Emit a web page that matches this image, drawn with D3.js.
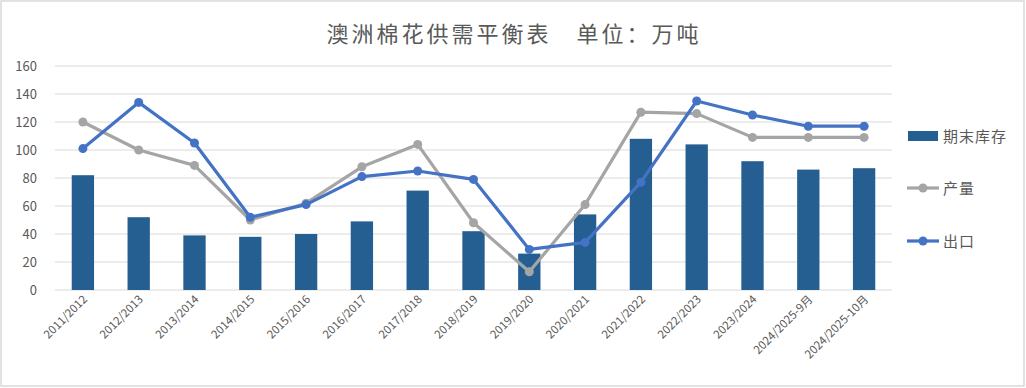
<!DOCTYPE html>
<html>
<head>
<meta charset="utf-8">
<script src="https://cdn.jsdelivr.net/npm/d3@7"></script>
<style>
  body { margin: 0; background: #fff; }
  text { font-family: "Noto Sans CJK SC", "Noto Sans", sans-serif; }
</style>
</head>
<body>
<svg width="1026" height="388"></svg>
<script>
// categories and series
const seasons = ["2011/2012", "2012/2013", "2013/2014", "2014/2015", "2015/2016",
    "2016/2017", "2017/2018", "2018/2019", "2019/2020", "2020/2021",
    "2021/2022", "2022/2023", "2023/2024", "2024/2025-9月", "2024/2025-10月"];
const stocks = [82, 52, 39, 38, 40, 49, 71, 42, 26, 54, 108, 104, 92, 86, 87];
const production = [120, 100, 89, 50, 62, 88, 104, 48, 13, 61, 127, 126, 109, 109, 109];
const exports = [101, 134, 105, 52, 61, 81, 85, 79, 29, 34, 77, 135, 125, 117, 117];
const yTicks = [0, 20, 40, 60, 80, 100, 120, 140, 160];

let svg = d3.select("svg"),
    width = +svg.attr("width"),
    height = +svg.attr("height");

const margin = {left: 55, right: 134, top: 66, bottom: 98};

// outer frame
svg.append("rect")
    .attr("x", 1).attr("y", 1)
    .attr("width", width - 3).attr("height", height - 3)
    .attr("fill", "#fff")
    .attr("stroke", "#d9d9d9")
    .attr("stroke-width", 1.5);

svg.append("text")
    .attr("x", 514).attr("y", 42)
    .attr("text-anchor", "middle")
    .attr("font-size", 22)
    .attr("letter-spacing", 3)
    .attr("fill", "#595959")
    .text("澳洲棉花供需平衡表\u3000单位：万吨");

let x = d3.scaleBand()
    .domain(seasons)
    .range([margin.left, width - margin.right])
    .paddingInner(0.6)
    .paddingOuter(0.3);

let y = d3.scaleLinear()
    .domain([0, 160])
    .range([height - margin.bottom, margin.top]);

// gridlines
svg.append("g")
    .selectAll("line")
    .data(yTicks)
    .join("line")
    .attr("x1", margin.left)
    .attr("x2", width - margin.right)
    .attr("y1", d => y(d))
    .attr("y2", d => y(d))
    .attr("stroke", "#d9d9d9")
    .attr("stroke-width", 1.2);

// y axis labels
let yAxis = svg.append("g")
    .attr("transform", "translate(" + (margin.left - 18) + ",0)")
    .call(d3.axisLeft(y).tickValues(yTicks).tickSize(0).tickPadding(0));
yAxis.select(".domain").remove();
yAxis.selectAll("text")
    .attr("font-size", 13)
    .attr("fill", "#595959")
    .attr("font-family", "Liberation Sans, Arial, sans-serif");

// x axis labels
let xAxis = svg.append("g")
    .attr("transform", "translate(0," + (height - margin.bottom) + ")")
    .call(d3.axisBottom(x).tickSize(0).tickPadding(0));
xAxis.select(".domain").remove();
xAxis.selectAll("text")
    .attr("font-size", 11.5)
    .attr("fill", "#595959")
    .attr("text-anchor", "end")
    .attr("dy", 0)
    .attr("transform", "translate(5,10) rotate(-45)");

// bars
const cx = d => x(d) + x.bandwidth() / 2;
svg.append("g")
    .selectAll("rect")
    .data(seasons)
    .join("rect")
    .attr("x", d => x(d))
    .attr("width", x.bandwidth())
    .attr("y", (d, i) => y(stocks[i]))
    .attr("height", (d, i) => y(0) - y(stocks[i]))
    .attr("fill", "#255e91");

function drawLine(values, colour) {
    let line = d3.line()
        .x((d, i) => cx(seasons[i]))
        .y(d => y(d));
    svg.append("path")
        .datum(values)
        .attr("d", line)
        .attr("fill", "none")
        .attr("stroke", colour)
        .attr("stroke-width", 3.2)
        .attr("stroke-linejoin", "round");
    svg.append("g")
        .selectAll("circle")
        .data(values)
        .join("circle")
        .attr("cx", (d, i) => cx(seasons[i]))
        .attr("cy", d => y(d))
        .attr("r", 4.5)
        .attr("fill", colour);
}
drawLine(production, "#a5a5a5");
drawLine(exports, "#4472c4");

// legend
let legend = svg.append("g");
legend.append("rect")
    .attr("x", 908).attr("y", 131)
    .attr("width", 30).attr("height", 10)
    .attr("fill", "#255e91");
legend.append("text")
    .attr("x", 943).attr("y", 142)
    .attr("font-size", 15).attr("letter-spacing", 1).attr("fill", "#595959")
    .text("期末库存");

const lineLegend = [["产量", "#a5a5a5", 188], ["出口", "#4472c4", 241]];
lineLegend.forEach(function (l) {
    legend.append("line")
        .attr("x1", 907).attr("x2", 939)
        .attr("y1", l[2]).attr("y2", l[2])
        .attr("stroke", l[1]).attr("stroke-width", 3.2);
    legend.append("circle")
        .attr("cx", 923).attr("cy", l[2]).attr("r", 4.5)
        .attr("fill", l[1]);
    legend.append("text")
        .attr("x", 943).attr("y", l[2] + 6)
        .attr("font-size", 15).attr("letter-spacing", 1).attr("fill", "#595959")
        .text(l[0]);
});
</script>
</body>
</html>
